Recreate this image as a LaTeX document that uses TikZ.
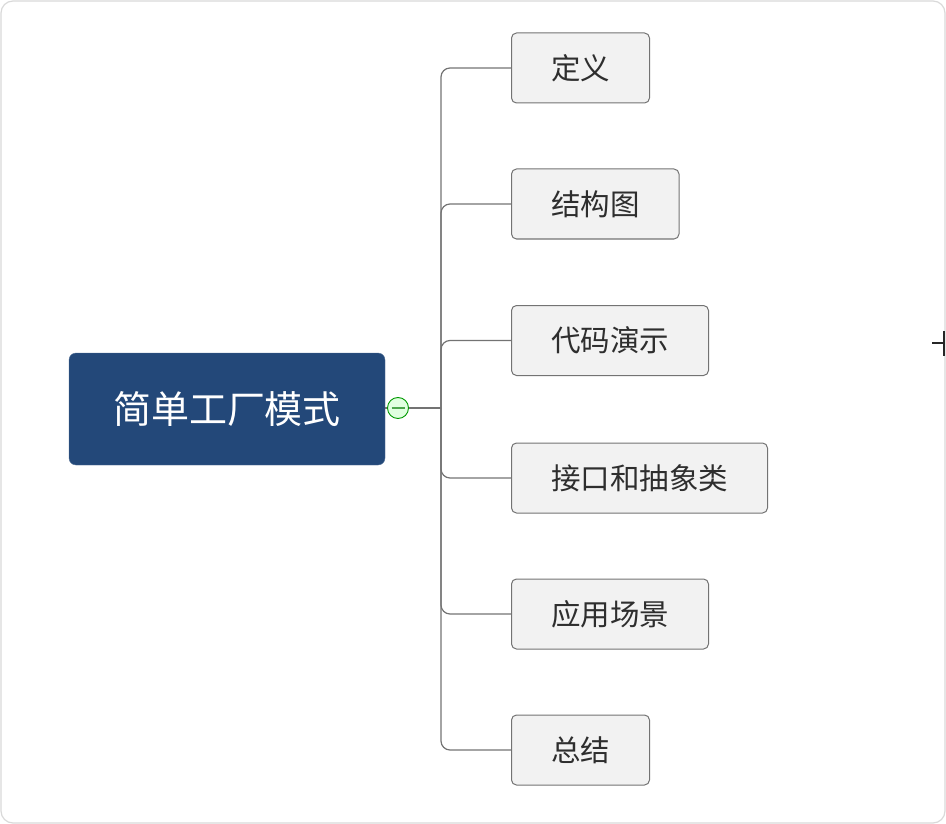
\documentclass[tikz,border=0pt]{standalone}
\usepackage{fontspec}
\setmainfont{Noto Sans CJK SC}
\usetikzlibrary{calc}
\definecolor{rootblue}{RGB}{35,72,121}
\definecolor{leafgray}{RGB}{242,242,242}
\definecolor{linegray}{RGB}{115,115,115}
\begin{document}
\begin{tikzpicture}[x=1pt, y=-1pt,
    root/.style={fill=rootblue, draw=rootblue!80!white, rounded corners=7pt, text=white, minimum width=316pt, minimum height=112pt, font=\fontsize{38}{40}\selectfont},
    leaf/.style={draw=linegray, fill=leafgray, rounded corners=5pt, anchor=west, minimum height=70pt, inner xsep=39.5pt, line width=1pt, text=black!82, font=\fontsize{29.5}{31}\selectfont},
    link/.style={draw=linegray, line width=1.2pt, rounded corners=9pt}]
        \useasboundingbox (0,0) rectangle (946,824);
        \draw[black!15, line width=1.2pt, rounded corners=12pt] (1,1) rectangle (945,823);

        \node[root] (root) at (227,409) {简单工厂模式};
        \coordinate (hub) at (441,408);

        \node[leaf] (def) at (511,68) {定义};
        \node[leaf] (struct) at (511,204) {结构图};
        \node[leaf] (code) at (511,340.5) {代码演示};
        \node[leaf] (iface) at (511,478) {接口和抽象类};
        \node[leaf] (usage) at (511,614) {应用场景};
        \node[leaf] (summary) at (511,750) {总结};

        \draw[link] (root.east |- hub) -- (hub);
        \foreach \n in {def, struct, code, iface, usage, summary}
            \draw[link] (hub) |- (\n.west);

        \node[circle, draw=green!60!black, fill=green!12, minimum size=21pt, inner sep=0pt, line width=0.9pt] (toggle) at (398,408) {};
        \draw[green!50!black!70, line width=1.6pt] ($(toggle.center)+(-6.5,0)$) -- ($(toggle.center)+(6.5,0)$);

        % cut-off mark at the right edge
        \coordinate (mark) at (944,343);
        \draw[black!85, line width=1.5pt] ($(mark)+(-12,0)$) -- (mark);
        \draw[black!85, line width=1.5pt] ($(mark)+(0,-12)$) -- ($(mark)+(0,13)$);
    \end{tikzpicture}
\end{document}
